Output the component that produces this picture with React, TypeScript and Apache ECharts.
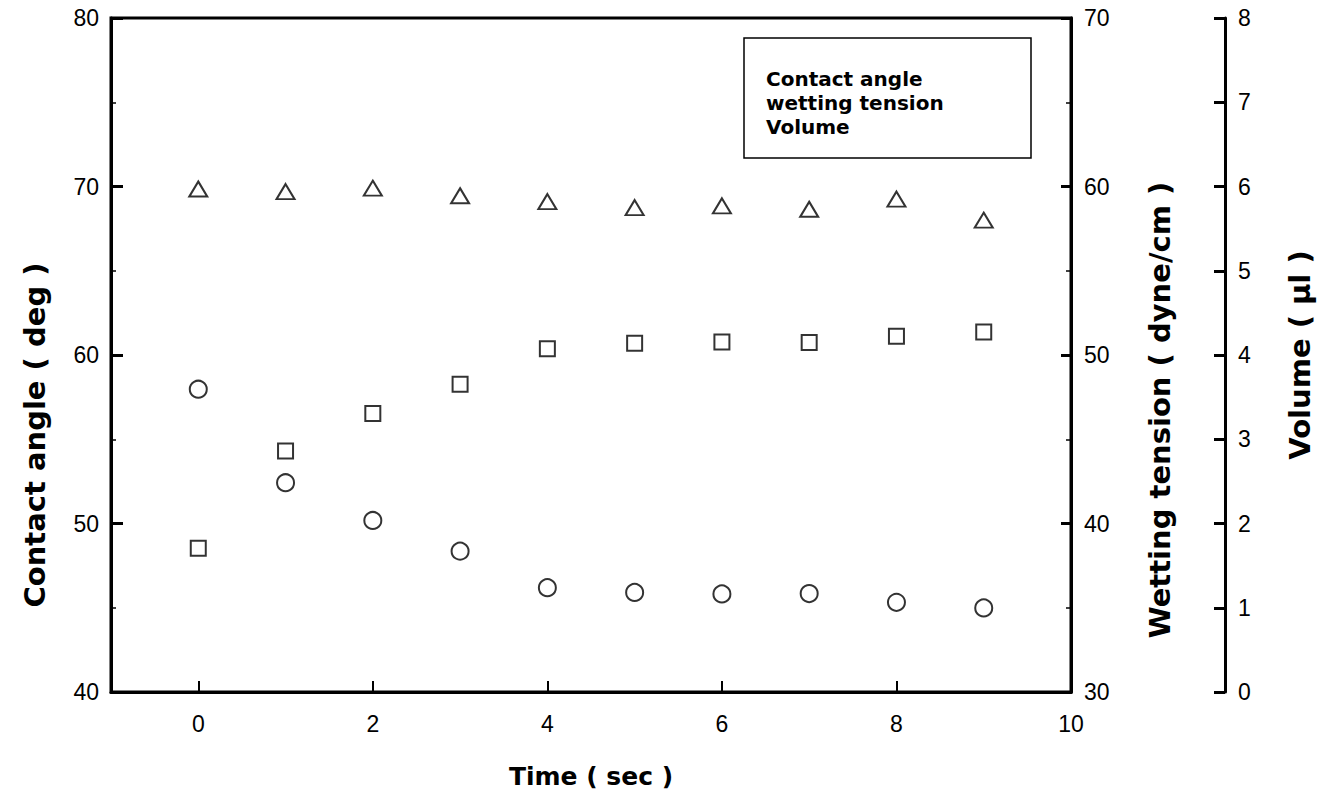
import React, { useEffect, useRef } from "react";
import * as echarts from "echarts";

const timeSec = [0, 1, 2, 3, 4, 5, 6, 7, 8, 9];
const contactAngle = [57.97, 52.42, 50.18, 48.36, 46.19, 45.91, 45.82, 45.84, 45.32, 44.99];
const wettingTension = [38.53, 44.31, 46.53, 48.27, 50.37, 50.69, 50.77, 50.74, 51.12, 51.37];
const volume = [5.97, 5.94, 5.98, 5.89, 5.82, 5.75, 5.77, 5.73, 5.85, 5.6];
const xTickLabels = [0, 2, 4, 6, 8, 10];
const seriesNames = ["Contact angle", "wetting tension", "Volume"];

const pairs = (ys: number[]) => timeSec.map((t, i) => [t, ys[i]]);

export default function App() {
  const ref = useRef<HTMLDivElement>(null);
  useEffect(() => {
    if (!ref.current) return;
    const chart = echarts.init(ref.current, null, { renderer: "svg" });
    const tickFont = { color: "#000", fontFamily: "Liberation Sans, Arial, sans-serif", fontSize: 23 };
    const titleFont = {
      color: "#000",
      fontFamily: "DejaVu Sans, sans-serif",
      fontWeight: "bold" as const,
      fontSize: 29,
    };
    const markerStyle = { color: "#fff", borderColor: "#000", borderWidth: 2 };
    chart.setOption({
      animation: false,
      backgroundColor: "#fff",
      grid: {
        left: 111,
        top: 18,
        right: 254,
        bottom: 110,
        show: true,
        borderColor: "#000",
        borderWidth: 3,
        backgroundColor: "transparent",
      },
      legend: {
        orient: "vertical",
        left: 755,
        top: 64,
        itemWidth: 0,
        itemHeight: 0,
        itemGap: 4,
        icon: "rect",
        itemStyle: { opacity: 0 },
        selectedMode: false,
        data: seriesNames,
        textStyle: {
          color: "#000",
          fontFamily: "DejaVu Sans, sans-serif",
          fontWeight: "bold",
          fontSize: 20,
          lineHeight: 20,
        },
      },
      graphic: [
        {
          type: "rect",
          shape: { x: 744, y: 38, width: 287, height: 120 },
          style: { fill: "transparent", stroke: "#000", lineWidth: 1.5 },
          z: 10,
        },
      ],
      xAxis: {
        type: "value",
        min: -1,
        max: 10,
        name: "Time ( sec )",
        nameLocation: "middle",
        nameGap: 72,
        nameTextStyle: { ...titleFont, fontSize: 25 },
        splitLine: { show: false },
        axisLine: { show: true, onZero: false, lineStyle: { color: "#000", width: 3 } },
        axisTick: {
          show: true,
          inside: true,
          length: 11,
          lineStyle: { color: "#000", width: 2 },
          customValues: xTickLabels,
        },
        axisLabel: { ...tickFont, margin: 20, customValues: xTickLabels },
      },
      yAxis: [
        {
          type: "value",
          position: "left",
          min: 40,
          max: 80,
          interval: 10,
          name: "Contact angle ( deg )",
          nameLocation: "middle",
          nameRotate: 90,
          nameGap: 62,
          nameTextStyle: { ...titleFont, padding: [0, 160, 0, 0] },
          splitLine: { show: false },
          axisLine: { show: true, onZero: false, lineStyle: { color: "#000", width: 3 } },
          axisTick: { show: true, inside: true, length: 12, lineStyle: { color: "#000", width: 3 } },
          minorTick: { show: true, splitNumber: 2, length: 5, lineStyle: { color: "#000", width: 1.5 } },
          axisLabel: { ...tickFont, margin: 12 },
        },
        {
          type: "value",
          position: "right",
          min: 30,
          max: 70,
          interval: 10,
          name: "Wetting tension ( dyne/cm )",
          nameLocation: "middle",
          nameRotate: 90,
          nameGap: 74,
          nameTextStyle: { ...titleFont, padding: [0, 110, 0, 0] },
          splitLine: { show: false },
          axisLine: { show: true, onZero: false, lineStyle: { color: "#000", width: 3 } },
          axisTick: { show: true, inside: true, length: 10, lineStyle: { color: "#000", width: 3 } },
          minorTick: { show: true, splitNumber: 2, length: 5, lineStyle: { color: "#000", width: 1.5 } },
          axisLabel: { ...tickFont, margin: 13, padding: [12, 0, 0, 0] },
        },
        {
          type: "value",
          position: "right",
          offset: 154,
          min: 0,
          max: 8,
          interval: 1,
          name: "Volume ( \u00b5l )",
          nameLocation: "middle",
          nameRotate: 90,
          nameGap: 60,
          nameTextStyle: titleFont,
          splitLine: { show: false },
          axisLine: { show: true, onZero: false, lineStyle: { color: "#000", width: 3 } },
          axisTick: { show: true, inside: true, length: 11, lineStyle: { color: "#000", width: 3 } },
          axisLabel: { ...tickFont, margin: 13, padding: [12, 0, 0, 0] },
        },
      ],
      series: [
        {
          name: seriesNames[0],
          type: "scatter",
          yAxisIndex: 0,
          symbol: "circle",
          symbolSize: 17,
          itemStyle: markerStyle,
          data: pairs(contactAngle),
        },
        {
          name: seriesNames[1],
          type: "scatter",
          yAxisIndex: 1,
          symbol: "rect",
          symbolSize: 15,
          itemStyle: markerStyle,
          data: pairs(wettingTension),
        },
        {
          name: seriesNames[2],
          type: "scatter",
          yAxisIndex: 2,
          symbol: "triangle",
          symbolSize: [18, 15],
          itemStyle: markerStyle,
          data: pairs(volume),
        },
      ],
    });
    return () => chart.dispose();
  }, []);
  return (
    <div
      ref={ref}
      style={{ position: "fixed", left: 0, top: 0, width: 1325, height: 802, background: "#fff" }}
    />
  );
}
